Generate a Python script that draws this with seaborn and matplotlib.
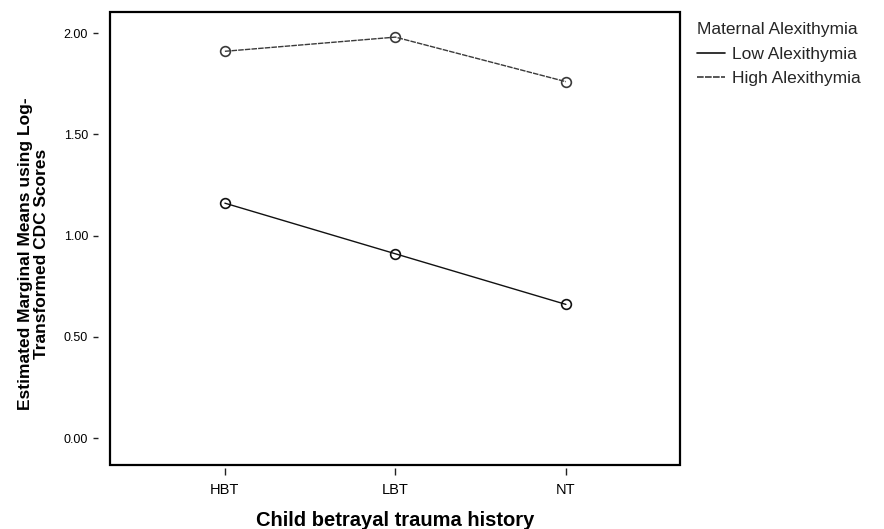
import matplotlib
matplotlib.use("Agg")
import matplotlib.pyplot as plt
import seaborn as sns
import pandas as pd
from matplotlib.lines import Line2D

# data
trauma_groups = ["HBT", "LBT", "NT"]
low_alexithymia = [1.16, 0.91, 0.66]
high_alexithymia = [1.91, 1.98, 1.76]
series_names = ["Low Alexithymia", "High Alexithymia"]
y_ticks = [0.0, 0.5, 1.0, 1.5, 2.0]

sns.set_style("white")
plt.rcParams["font.family"] = ["Liberation Sans", "DejaVu Sans"]

df = pd.DataFrame({
    "group": trauma_groups * 2,
    "mean": low_alexithymia + high_alexithymia,
    "alex": [series_names[0]] * 3 + [series_names[1]] * 3,
})

fig = plt.figure(figsize=(8.84, 5.29), dpi=100)
ax = fig.add_axes([0.1244, 0.121, 0.6448, 0.8563])

colors = {"Low Alexithymia": "#111111", "High Alexithymia": "#3a3a3a"}
styles = {"Low Alexithymia": "-", "High Alexithymia": (0, (4, 0.8))}
for name in series_names:
    sub = df[df["alex"] == name]
    sns.lineplot(data=sub, x="group", y="mean", ax=ax, color=colors[name],
                 linestyle=styles[name],
                 marker="o", markersize=7, markerfacecolor="none",
                 markeredgecolor=colors[name], markeredgewidth=1.2,
                 linewidth=1.0, legend=False)

ax.set_xlim(-0.674, 2.669)
ax.set_ylim(-0.133, 2.104)
ax.set_yticks(y_ticks)
ax.set_yticklabels([f"{t:.2f}" for t in y_ticks])

# ticks sit a little away from the frame, so move the spines out and
# draw the frame with the axes patch instead
ax.spines["left"].set_position(("outward", 8.6))
ax.spines["bottom"].set_position(("outward", 2.2))
for sp in ax.spines.values():
    sp.set_visible(False)
ax.patch.set_edgecolor("black")
ax.patch.set_linewidth(1.6)

ax.tick_params(axis="y", direction="out", length=3.6, width=1, labelsize=9,
               left=True, pad=3.6, color="#222222", labelcolor="black")
ax.tick_params(axis="x", direction="out", length=5, width=1, labelsize=10.5,
               bottom=True, pad=5.5, color="#222222", labelcolor="black")

ax.set_xlabel("Child betrayal trauma history", fontsize=14.5, fontweight="bold",
              labelpad=10, color="black")
ax.set_ylabel("Estimated Marginal Means using Log-\nTransformed CDC Scores",
              fontsize=12.5, fontweight="bold", linespacing=1.05,
              color="black")
ax.yaxis.set_label_coords(-0.107, 0.466)

handles = [Line2D([0], [0], color=colors[n], linewidth=1.2, linestyle=styles[n])
           for n in series_names]
leg = fig.legend(handles, series_names, title="Maternal Alexithymia",
                 loc="upper left", bbox_to_anchor=(0.7705, 0.988), frameon=False,
                 fontsize=12.5, title_fontsize=12.5, handlelength=1.6,
                 handletextpad=0.45, labelspacing=0.55)
leg._legend_box.align = "left"

fig.savefig("out.png", dpi=100)
